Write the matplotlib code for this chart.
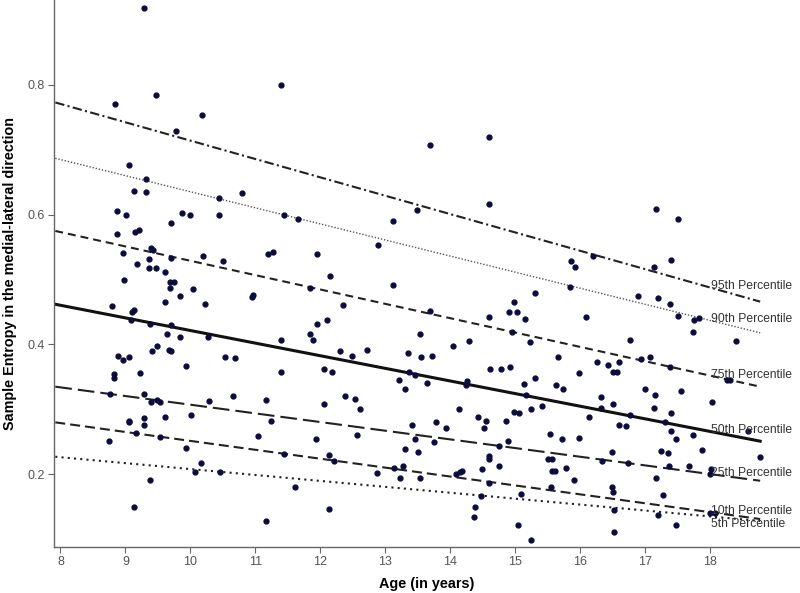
import matplotlib
matplotlib.use("Agg")
import matplotlib.pyplot as plt

plt.rcParams["font.family"] = ["Liberation Sans", "DejaVu Sans"]

# observed points (age in years, sample entropy ML)
age = [
    9.29, 8.84, 9.47, 10.18, 9.78, 9.06, 9.32, 9.14, 9.32, 10.80, 10.44, 8.87, 9.01, 9.87, 10.00,
    10.44, 9.71, 8.87, 9.15, 9.21, 9.39, 9.42, 8.97, 9.36, 9.71, 10.19, 10.50, 9.18, 9.36, 9.47,
    9.61, 8.98, 9.68, 9.75, 9.68, 10.04, 9.84, 10.97, 10.95, 8.80, 9.61, 10.22, 9.10, 9.14, 9.08,
    9.38, 9.71, 9.64, 9.84, 10.28, 9.49, 9.41, 9.67, 9.70, 8.88, 8.97, 9.06, 9.94, 10.54, 10.69,
    8.82, 8.82, 9.23, 8.76, 9.28, 9.39, 9.48, 9.54, 10.29, 10.66, 9.05, 9.06, 9.28, 9.28, 9.61,
    10.01, 9.17, 9.54, 8.74, 9.93, 11.05, 10.17, 10.08, 10.45, 9.38, 9.13,
    11.40, 13.50, 13.69, 11.44, 11.66, 13.13, 12.89, 11.19, 11.27, 11.95, 12.15, 11.85, 13.13,
    12.36, 13.69, 12.11, 11.95, 11.84, 11.89, 11.40, 13.54, 12.31, 12.49, 12.73, 13.35, 13.56,
    13.72, 12.06, 11.40, 12.19, 11.17, 12.06, 12.39, 12.53, 12.62, 13.22, 13.31, 13.37, 13.46,
    13.65, 11.25, 11.94, 12.57, 13.41, 13.46, 13.79, 13.76, 13.31, 13.51, 11.44, 12.14, 12.21,
    12.87, 13.14, 13.28, 13.23, 13.54, 11.61, 12.13, 11.17,
    14.60, 14.60, 16.20, 15.86, 15.92, 15.85, 15.31, 14.98, 14.91, 15.04, 14.60, 15.15, 16.09,
    14.96, 14.04, 14.29, 15.23, 15.67, 16.27, 14.61, 14.78, 14.93, 14.24, 14.27, 15.14, 15.31,
    15.63, 15.74, 15.99, 15.17, 13.94, 14.14, 14.43, 14.56, 14.52, 14.87, 14.99, 15.07, 15.25,
    15.42, 16.14, 14.90, 14.75, 15.54, 15.72, 15.99, 14.60, 14.60, 14.49, 14.75, 15.51, 15.57,
    15.58, 15.62, 15.79, 15.91, 14.09, 14.15, 14.19, 14.60, 15.56, 14.48, 15.09, 14.38, 14.37,
    15.05, 15.25,
    17.18, 17.52, 17.41, 17.14, 16.90, 17.21, 17.39, 17.51, 17.76, 17.84, 17.74, 18.40, 16.77,
    16.44, 16.61, 16.94, 17.08, 17.39, 16.52, 16.58, 18.27, 18.32, 17.01, 17.16, 17.56, 16.33,
    16.51, 17.15, 18.04, 16.33, 16.78, 17.40, 16.60, 16.71, 17.31, 17.40, 17.48, 17.75, 18.59,
    16.49, 17.25, 17.36, 17.88, 18.78, 16.34, 16.75, 17.38, 17.68, 18.03, 18.01, 17.18, 16.50,
    16.52, 17.28, 16.53, 17.20, 18.01, 18.09, 17.48, 16.53,
]
entropy = [
    0.919, 0.770, 0.784, 0.753, 0.729, 0.677, 0.655, 0.637, 0.635, 0.633, 0.626, 0.605, 0.600, 0.602, 0.600,
    0.600, 0.588, 0.570, 0.573, 0.576, 0.549, 0.545, 0.541, 0.532, 0.533, 0.537, 0.529, 0.524, 0.518, 0.518,
    0.512, 0.499, 0.496, 0.497, 0.487, 0.485, 0.475, 0.477, 0.473, 0.459, 0.465, 0.462, 0.450, 0.453, 0.438,
    0.431, 0.430, 0.416, 0.412, 0.412, 0.398, 0.390, 0.392, 0.390, 0.383, 0.376, 0.381, 0.367, 0.380, 0.379,
    0.355, 0.349, 0.356, 0.324, 0.324, 0.311, 0.314, 0.311, 0.313, 0.321, 0.280, 0.282, 0.286, 0.276, 0.288,
    0.292, 0.263, 0.258, 0.252, 0.241, 0.259, 0.217, 0.204, 0.203, 0.191, 0.150,
    0.800, 0.608, 0.707, 0.600, 0.594, 0.590, 0.554, 0.539, 0.543, 0.539, 0.505, 0.487, 0.492,
    0.461, 0.452, 0.438, 0.431, 0.416, 0.407, 0.407, 0.416, 0.390, 0.382, 0.392, 0.387, 0.380,
    0.382, 0.362, 0.357, 0.358, 0.315, 0.308, 0.321, 0.316, 0.301, 0.346, 0.331, 0.358, 0.353,
    0.340, 0.282, 0.254, 0.261, 0.276, 0.254, 0.280, 0.249, 0.239, 0.234, 0.231, 0.230, 0.221,
    0.202, 0.210, 0.213, 0.195, 0.194, 0.180, 0.147, 0.128,
    0.720, 0.617, 0.537, 0.529, 0.519, 0.489, 0.480, 0.465, 0.450, 0.450, 0.442, 0.439, 0.442,
    0.420, 0.397, 0.406, 0.404, 0.380, 0.373, 0.363, 0.362, 0.366, 0.337, 0.343, 0.339, 0.349,
    0.337, 0.332, 0.356, 0.322, 0.272, 0.301, 0.288, 0.282, 0.271, 0.282, 0.296, 0.295, 0.301,
    0.305, 0.289, 0.252, 0.244, 0.262, 0.255, 0.256, 0.228, 0.224, 0.208, 0.212, 0.223, 0.223,
    0.205, 0.205, 0.210, 0.191, 0.201, 0.203, 0.205, 0.186, 0.180, 0.166, 0.169, 0.149, 0.134,
    0.122, 0.099,
    0.609, 0.594, 0.530, 0.519, 0.474, 0.471, 0.462, 0.444, 0.437, 0.441, 0.420, 0.405, 0.407,
    0.369, 0.373, 0.377, 0.381, 0.365, 0.358, 0.357, 0.345, 0.346, 0.331, 0.322, 0.329, 0.319,
    0.309, 0.302, 0.311, 0.302, 0.291, 0.294, 0.276, 0.274, 0.280, 0.267, 0.254, 0.261, 0.266,
    0.234, 0.236, 0.233, 0.237, 0.227, 0.220, 0.217, 0.213, 0.213, 0.208, 0.200, 0.194, 0.180,
    0.173, 0.168, 0.145, 0.137, 0.140, 0.140, 0.122, 0.111,
]

# percentile regression lines: value at start age and at end age
line_ages = [7.92, 18.78]
pct_names = ["95th Percentile", "90th Percentile", "75th Percentile", "50th Percentile",
             "25th Percentile", "10th Percentile", "5th Percentile"]
pct_start = [0.773, 0.687, 0.575, 0.462, 0.335, 0.280, 0.227]
pct_end = [0.466, 0.418, 0.335, 0.251, 0.190, 0.131, 0.128]
label_y = [0.490, 0.439, 0.353, 0.268, 0.2015, 0.143, 0.123]
label_x = 18.03

styles = [
    dict(lw=1.5, color="#222222", linestyle=(0, (4.5, 1.6, 1.0, 1.6))),
    dict(lw=1.0, color="#555555", linestyle=(0, (1.0, 1.3))),
    dict(lw=1.5, color="#222222", linestyle=(0, (3.8, 2.4))),
    dict(lw=2.2, color="#111111", linestyle="-"),
    dict(lw=1.5, color="#222222", linestyle=(0, (8.0, 2.9))),
    dict(lw=1.5, color="#222222", linestyle=(0, (4.8, 2.4))),
    dict(lw=1.5, color="#222222", linestyle=(0, (1.0, 2.0))),
]

fig = plt.figure(figsize=(8, 5.93), dpi=100)
ax = fig.add_axes([0.0679, 0.0781, 0.931, 0.922])

ax.plot(age, entropy, "o", ms=3.5, color="#0c0c3c", zorder=3)

for name, y0, y1, ly, st in zip(pct_names, pct_start, pct_end, label_y, styles):
    ax.plot(line_ages, [y0, y1], zorder=2, **st)
    ax.text(label_x, ly, name, fontsize=8.7, color="#333333", ha="left", va="center", zorder=4)

ax.set_xlim(7.905, 19.38)
ax.set_ylim(0.0884, 0.931)
ax.set_xticks(range(8, 19))
ax.set_yticks([0.2, 0.4, 0.6, 0.8])
ax.set_yticklabels(["0.2", "0.4", "0.6", "0.8"])

for side in ["top", "right"]:
    ax.spines[side].set_visible(False)
for side in ["left", "bottom"]:
    ax.spines[side].set_color("#666666")
    ax.spines[side].set_linewidth(1.0)

ax.tick_params(direction="out", length=4, width=0.8, color="#666666",
               labelcolor="#555555", labelsize=9, pad=3)

ax.set_xlabel("Age (in years)", fontsize=10.4, fontweight="bold")
ax.set_ylabel("Sample Entropy in the medial-lateral direction", fontsize=10.4, fontweight="bold")
ax.xaxis.set_label_coords(0.5, -0.056)
ax.yaxis.set_label_coords(-0.050, 0.5)

fig.savefig("out.png", dpi=100)
